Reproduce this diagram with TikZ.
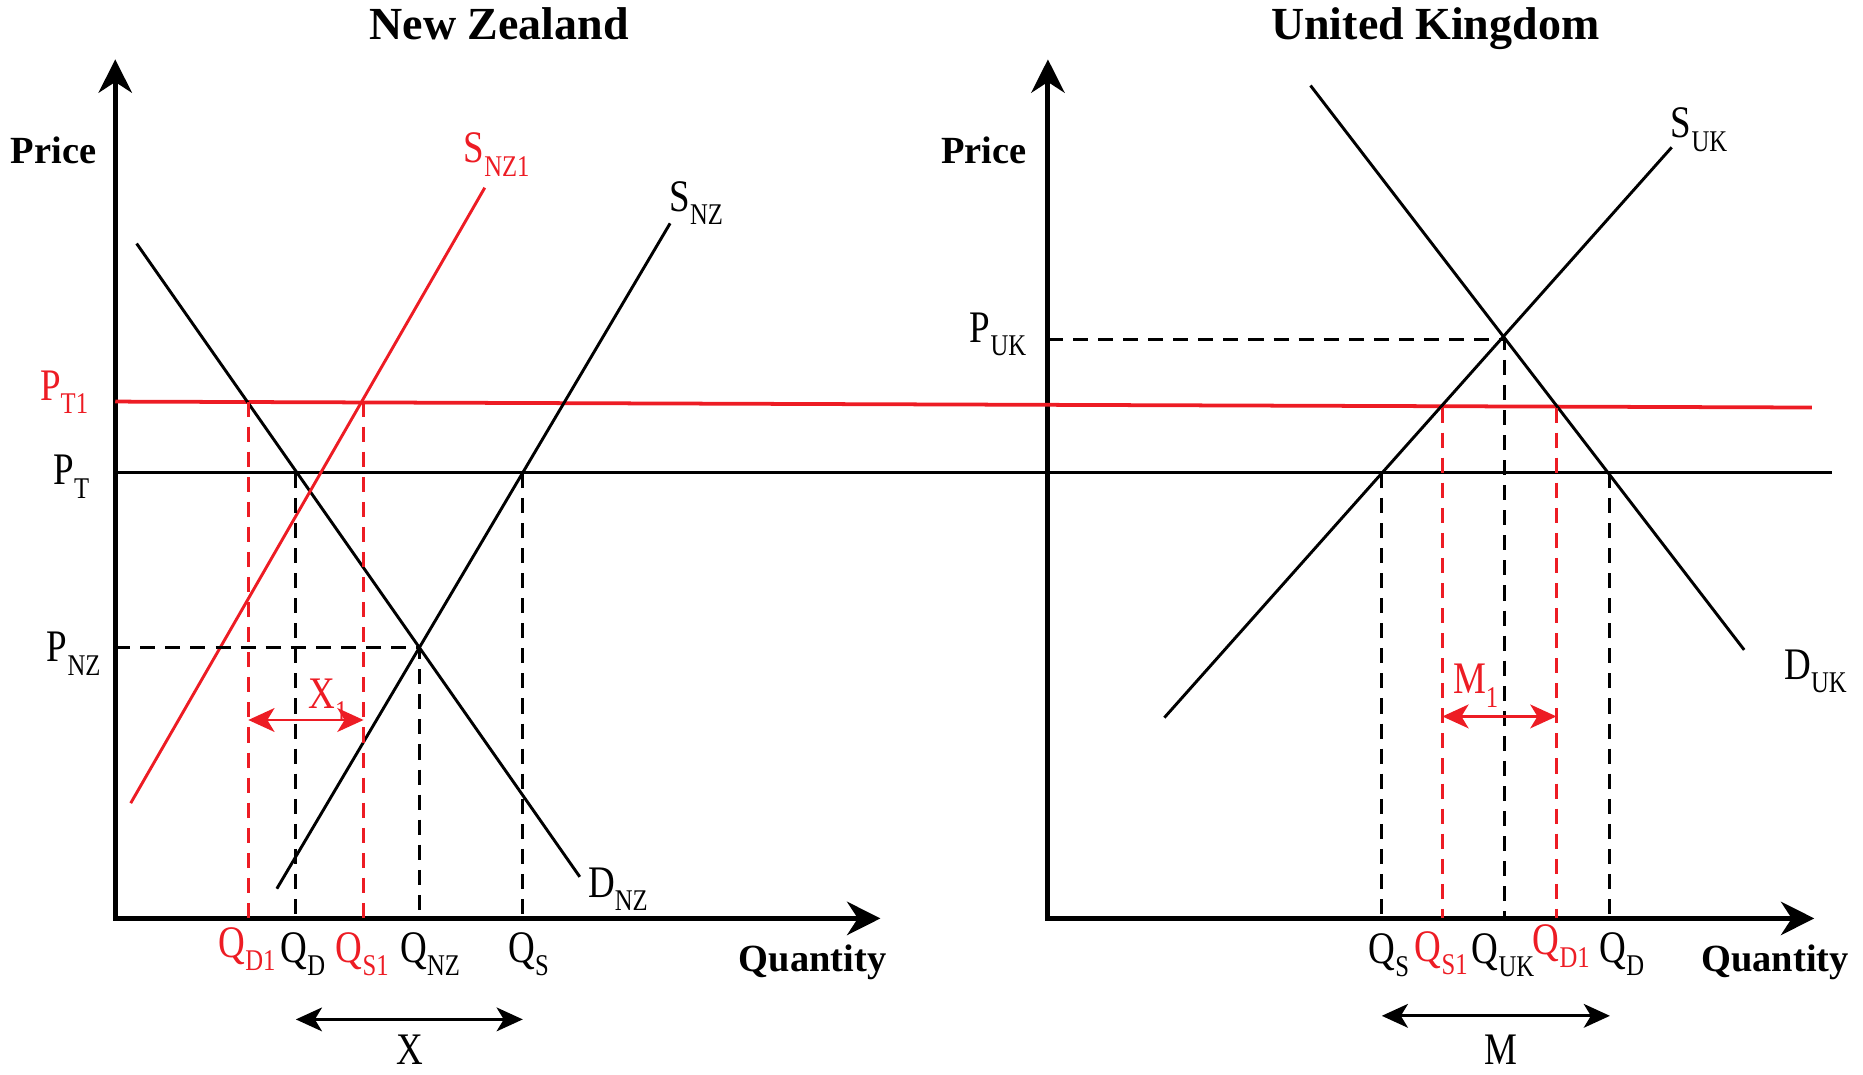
\documentclass[tikz,border=0pt]{standalone}
\usepackage{fontspec}
\setmainfont{Liberation Serif}
\newfontfamily\narrowserif[FakeStretch=0.82]{Liberation Serif}
\usetikzlibrary{arrows.meta}
\definecolor{tradered}{RGB}{237,28,36}
\newcommand{\lsub}[1]{\raisebox{-3.2pt}{\fontsize{7.2}{8}\selectfont #1}}

\begin{document}
\begin{tikzpicture}[x=0.01cm, y=-0.01cm,
    axisline/.style={line width=1.2pt, {Stealth[length=2.8mm, width=2.8mm, inset=0.9mm]}-{Stealth[length=2.8mm, width=2.8mm, inset=0.9mm]}},
    curve/.style={line width=0.7pt},
    guide/.style={line width=0.7pt, dash pattern=on 3.6pt off 2.4pt},
    tradegap/.style={line width=0.7pt, {Stealth[length=2.2mm, width=2mm, inset=0.6mm]}-{Stealth[length=2.2mm, width=2mm, inset=0.6mm]}},
    lbl/.style={font=\narrowserif\fontsize{10.8}{12}\selectfont, inner sep=0pt, anchor=base},
    axlbl/.style={font=\fontsize{9.2}{11}\selectfont\bfseries, inner sep=0pt, anchor=base},
    headline/.style={font=\fontsize{11}{13}\selectfont\bfseries, inner sep=0pt, anchor=base}
]
\useasboundingbox (0,0) rectangle (1568,904);

% titles
\node[headline] (nzTitle) at (420,33) {New Zealand};
\node[headline] (ukTitle) at (1208,33) {United Kingdom};

% axes
\coordinate (nzO) at (97,773);
\coordinate (nzY) at (97,50);
\coordinate (nzX) at (741,773);
\coordinate (ukO) at (882,773);
\coordinate (ukY) at (882,50);
\coordinate (ukX) at (1527,773);
\draw[axisline] (nzY) -- (nzO) -- (nzX);
\draw[axisline] (ukY) -- (ukO) -- (ukX);
\node[axlbl] (nzPrice) at (45,138) {Price};
\node[axlbl] (ukPrice) at (828,138) {Price};
\node[axlbl] (nzQty) at (684,818) {Quantity};
\node[axlbl] (ukQty) at (1494,818) {Quantity};

% world prices
\coordinate (pt1L) at (97,338);
\coordinate (pt1R) at (1525,343);
\coordinate (ptL) at (97,398);
\coordinate (ptR) at (1542,398);
\draw[curve, tradered, line width=0.9pt] (pt1L) -- (pt1R);
\draw[curve] (ptL) -- (ptR);

% NZ curves
\coordinate (dnzA) at (115,205);
\coordinate (dnzB) at (488,738);
\coordinate (snzA) at (233,748);
\coordinate (snzB) at (564,188);
\coordinate (snz1A) at (110,676);
\coordinate (snz1B) at (408,158);
\draw[curve] (dnzA) -- (dnzB);
\draw[curve] (snzA) -- (snzB);
\draw[curve, tradered] (snz1A) -- (snz1B);

% UK curves
\coordinate (dukA) at (1103,72);
\coordinate (dukB) at (1468,547);
\coordinate (sukA) at (980,604);
\coordinate (sukB) at (1407,124);
\draw[curve] (dukA) -- (dukB);
\draw[curve] (sukA) -- (sukB);

% NZ guides
\coordinate (eNZ) at (353,545);
\coordinate (qdNZ) at (249,398);
\coordinate (qsNZ) at (440,398);
\coordinate (qd1NZ) at (209,338);
\coordinate (qs1NZ) at (306,338);
\draw[guide] (nzO |- eNZ) -- (eNZ) -- (eNZ |- nzO);
\draw[guide] (qdNZ) -- (qdNZ |- nzO);
\draw[guide] (qsNZ) -- (qsNZ |- nzO);
\draw[guide, tradered] (qd1NZ) -- (qd1NZ |- nzO);
\draw[guide, tradered] (qs1NZ) -- (qs1NZ |- nzO);

% UK guides
\coordinate (eUK) at (1266,286);
\coordinate (qsUK) at (1163,398);
\coordinate (qdUK) at (1355,398);
\coordinate (qs1UK) at (1214,343);
\coordinate (qd1UK) at (1310,343);
\draw[guide] (ukO |- eUK) -- (eUK) -- (eUK |- ukO);
\draw[guide] (qsUK) -- (qsUK |- ukO);
\draw[guide] (qdUK) -- (qdUK |- ukO);
\draw[guide, tradered] (qs1UK) -- (qs1UK |- ukO);
\draw[guide, tradered] (qd1UK) -- (qd1UK |- ukO);

% exports and imports
\coordinate (x1L) at (209,606);
\coordinate (x1R) at (306,606);
\coordinate (xL) at (249,858);
\coordinate (xR) at (440,858);
\coordinate (m1L) at (1214,603);
\coordinate (m1R) at (1310,603);
\coordinate (mL) at (1163,855);
\coordinate (mR) at (1355,855);
\draw[tradegap, tradered] (x1L) -- (x1R);
\draw[tradegap] (xL) -- (xR);
\draw[tradegap, tradered] (m1L) -- (m1R);
\draw[tradegap] (mL) -- (mR);
\node[lbl, tradered] (x1Lbl) at (276,596) {X\lsub{1}};
\node[lbl] (xLbl) at (345,896) {X};
\node[lbl, tradered] (m1Lbl) at (1242,584) {M\lsub{1}};
\node[lbl] (mLbl) at (1263,896) {M};

% price labels
\node[lbl, tradered] (pt1Lbl) at (54,337) {P\lsub{T1}};
\node[lbl] (ptLbl) at (60,408) {P\lsub{T}};
\node[lbl] (pnzLbl) at (62,557) {P\lsub{NZ}};
\node[lbl] (pukLbl) at (840,288) {P\lsub{UK}};

% curve labels
\node[lbl, tradered] (snz1Lbl) at (418,137) {S\lsub{NZ1}};
\node[lbl] (snzLbl) at (586,178) {S\lsub{NZ}};
\node[lbl] (dnzLbl) at (520,755) {D\lsub{NZ}};
\node[lbl] (sukLbl) at (1430,116) {S\lsub{UK}};
\node[lbl] (dukLbl) at (1528,572) {D\lsub{UK}};

% quantity labels
\node[lbl, tradered] (qd1NZLbl) at (208,806) {Q\lsub{D1}};
\node[lbl] (qdNZLbl) at (255,810) {Q\lsub{D}};
\node[lbl, tradered] (qs1NZLbl) at (305,810) {Q\lsub{S1}};
\node[lbl] (qnzLbl) at (362,810) {Q\lsub{NZ}};
\node[lbl] (qsNZLbl) at (445,810) {Q\lsub{S}};
\node[lbl] (qsUKLbl) at (1169,811) {Q\lsub{S}};
\node[lbl, tradered] (qs1UKLbl) at (1213,809) {Q\lsub{S1}};
\node[lbl] (qukLbl) at (1265,811) {Q\lsub{UK}};
\node[lbl, tradered] (qd1UKLbl) at (1314,803) {Q\lsub{D1}};
\node[lbl] (qdUKLbl) at (1365,810) {Q\lsub{D}};
\end{tikzpicture}
\end{document}
